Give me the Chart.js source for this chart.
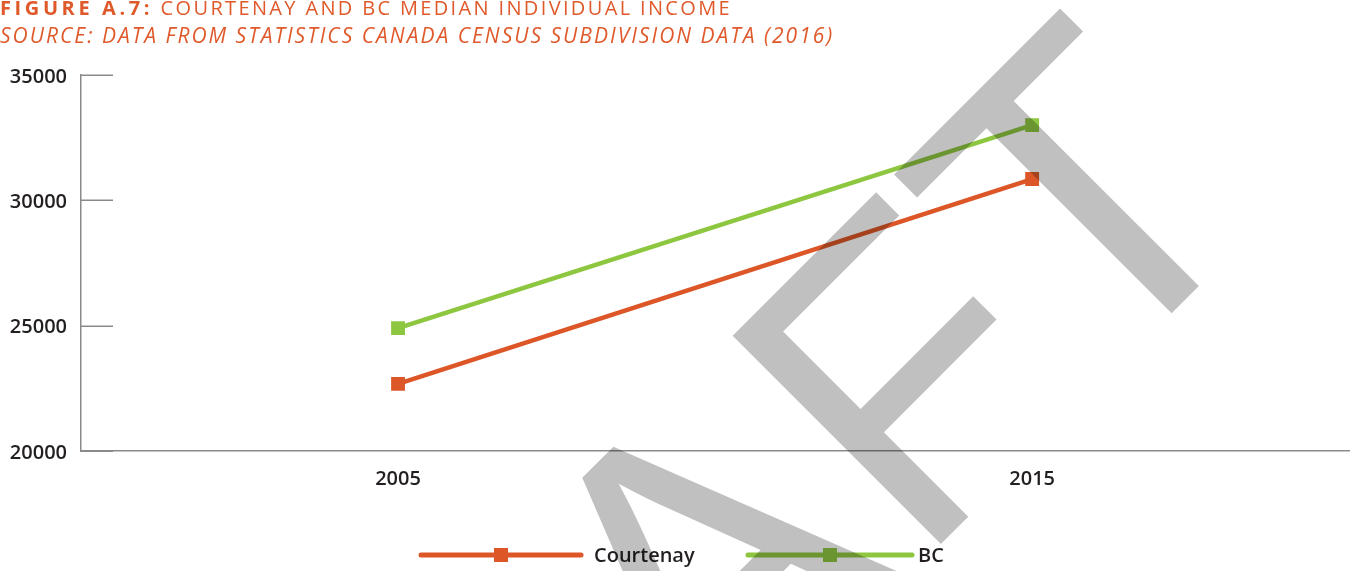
<!DOCTYPE html>
<html lang="en">
<head>
  <meta charset="UTF-8" />
  <title>Courtenay and BC Median Individual Income</title>
  <script src="https://cdn.jsdelivr.net/npm/chart.js"></script>
  <style>
    body {
      margin: 0;
      background: #fff;
      font-family: "Open Sans", sans-serif;
      overflow: hidden;
    }
    #wrap {
      position: relative;
      width: 1359px;
      height: 571px;
      overflow: hidden;
    }
    #income {
      position: absolute;
      left: 0;
      top: 0;
    }
    .fig-title, .fig-source {
      position: absolute;
      left: 0;
      margin: 0;
      color: #e0592b;
      white-space: nowrap;
      line-height: 20px;
    }
    .fig-title {
      top: -2px;
      font-size: 20px;
      letter-spacing: 2.35px;
    }
    .fig-title b {
      font-weight: 700;
      letter-spacing: 3.6px;
    }
    .fig-source {
      top: 25px;
      font-size: 21px;
      letter-spacing: 2px;
      font-style: italic;
    }
  </style>
</head>
<body>

  <div id="wrap">
    <canvas id="income" width="1359" height="571"></canvas>
    <p class="fig-title"><b>FIGURE A.7:</b> COURTENAY AND BC MEDIAN INDIVIDUAL INCOME</p>
    <p class="fig-source">SOURCE: DATA FROM STATISTICS CANADA CENSUS SUBDIVISION DATA (2016)</p>
  </div>

  <script>
    const years = ["2005", "2015"];
    const courtenay = [22680, 30850];
    const bc = [24900, 33000];
    const seriesNames = ["Courtenay", "BC"];
    const yTicks = [20000, 25000, 30000, 35000];

    const ORANGE = "#dd5628";
    const GREEN = "#8dc63f";
    const AXIS = "#8a8a8a";
    const LABEL_FONT = { family: "'Open Sans', sans-serif", size: 20, weight: "600" };

    // short tick marks pointing into the plot from the y axis
    const innerTicks = {
      id: "innerTicks",
      afterDatasetsDraw(chart) {
        const { ctx, chartArea, scales } = chart;
        ctx.save();
        ctx.strokeStyle = AXIS;
        ctx.lineWidth = 1.5;
        yTicks.forEach(v => {
          const y = Math.round(scales.y.getPixelForValue(v)) + 0.25;
          ctx.beginPath();
          ctx.moveTo(chartArea.left, y);
          ctx.lineTo(chartArea.left + 32, y);
          ctx.stroke();
        });
        ctx.restore();
      }
    };

    // legend under the plot: long line with a square marker, then the name
    const lineLegend = {
      id: "lineLegend",
      afterDraw(chart) {
        const { ctx } = chart;
        const items = [
          { x0: 421, x1: 581, tx: 594 },
          { x0: 748, x1: 912, tx: 918 }
        ];
        const y = 555;
        ctx.save();
        chart.data.datasets.forEach((ds, i) => {
          const it = items[i];
          ctx.strokeStyle = ds.borderColor;
          ctx.lineWidth = 5;
          ctx.lineCap = "round";
          ctx.beginPath();
          ctx.moveTo(it.x0, y);
          ctx.lineTo(it.x1, y);
          ctx.stroke();
          const mid = (it.x0 + it.x1) / 2;
          ctx.fillStyle = ds.pointBackgroundColor;
          ctx.fillRect(mid - 7, y - 7, 14, 14);
          ctx.fillStyle = "#231f20";
          ctx.font = "600 20px 'Open Sans', sans-serif";
          ctx.textBaseline = "middle";
          ctx.textAlign = "left";
          ctx.fillText(ds.label, it.tx, y + 1);
        });
        ctx.restore();
      }
    };

    // big grey "DRAFT" stamp laid diagonally over everything
    const draftStamp = {
      id: "draftStamp",
      afterDraw(chart) {
        const { ctx } = chart;
        const sx = 0.97;
        ctx.save();
        ctx.globalCompositeOperation = "multiply";
        ctx.fillStyle = "#c0c0c0";
        ctx.rotate(-Math.PI / 4);
        ctx.scale(sx, 1);
        ctx.font = "428px 'Liberation Sans', Arial, sans-serif";
        ctx.textBaseline = "alphabetic";
        ctx.textAlign = "left";
        const base = 1050;
        const mA = ctx.measureText("A");
        const mF = ctx.measureText("F");
        const mT = ctx.measureText("T");
        const xA = 96 / sx - (mA.actualBoundingBoxRight - mA.actualBoundingBoxLeft) / 2;
        const xF = 279 / sx + mF.actualBoundingBoxLeft;
        const xT = 626 / sx - (mT.actualBoundingBoxRight - mT.actualBoundingBoxLeft) / 2;
        const xR = xA - ctx.measureText("R").width;
        const xD = xR - ctx.measureText("D").width;
        ctx.fillText("D", xD, base);
        ctx.fillText("R", xR, base);
        ctx.fillText("A", xA, base - 6);
        ctx.fillText("F", xF, base);
        ctx.fillText("T", xT, base);
        ctx.restore();
      }
    };

    new Chart(document.getElementById("income"), {
      type: "line",
      data: {
        labels: years,
        datasets: [
          {
            label: seriesNames[0],
            data: courtenay,
            borderColor: ORANGE,
            backgroundColor: ORANGE,
            pointBackgroundColor: ORANGE,
            borderWidth: 4.5,
            pointStyle: "rect",
            pointRadius: 9.8,
            pointBorderWidth: 0,
            tension: 0
          },
          {
            label: seriesNames[1],
            data: bc,
            borderColor: GREEN,
            backgroundColor: GREEN,
            pointBackgroundColor: GREEN,
            borderWidth: 4.5,
            pointStyle: "rect",
            pointRadius: 9.8,
            pointBorderWidth: 0,
            tension: 0
          }
        ]
      },
      options: {
        responsive: false,
        animation: false,
        layout: { padding: { left: 0, top: 75, right: 4, bottom: 0 } },
        plugins: {
          legend: { display: false },
          tooltip: { enabled: false }
        },
        scales: {
          x: {
            offset: true,
            grid: { display: false, drawTicks: false },
            border: { display: true, color: AXIS, width: 1.5 },
            ticks: { color: "#231f20", font: LABEL_FONT, padding: 16 },
            afterFit(scale) {
              scale.height = 120;
              scale.paddingLeft = 0;
              scale.paddingRight = 0;
            }
          },
          y: {
            min: 20000,
            max: 35000,
            grid: { display: false, drawTicks: false },
            border: { display: true, color: AXIS, width: 1.5 },
            ticks: {
              stepSize: 5000,
              color: "#231f20",
              font: LABEL_FONT,
              padding: 14,
              labelOffset: 2,
              callback: v => String(v)
            },
            afterFit(scale) { scale.width = 81; }
          }
        }
      },
      plugins: [innerTicks, lineLegend, draftStamp]
    });
  </script>

</body>
</html>
